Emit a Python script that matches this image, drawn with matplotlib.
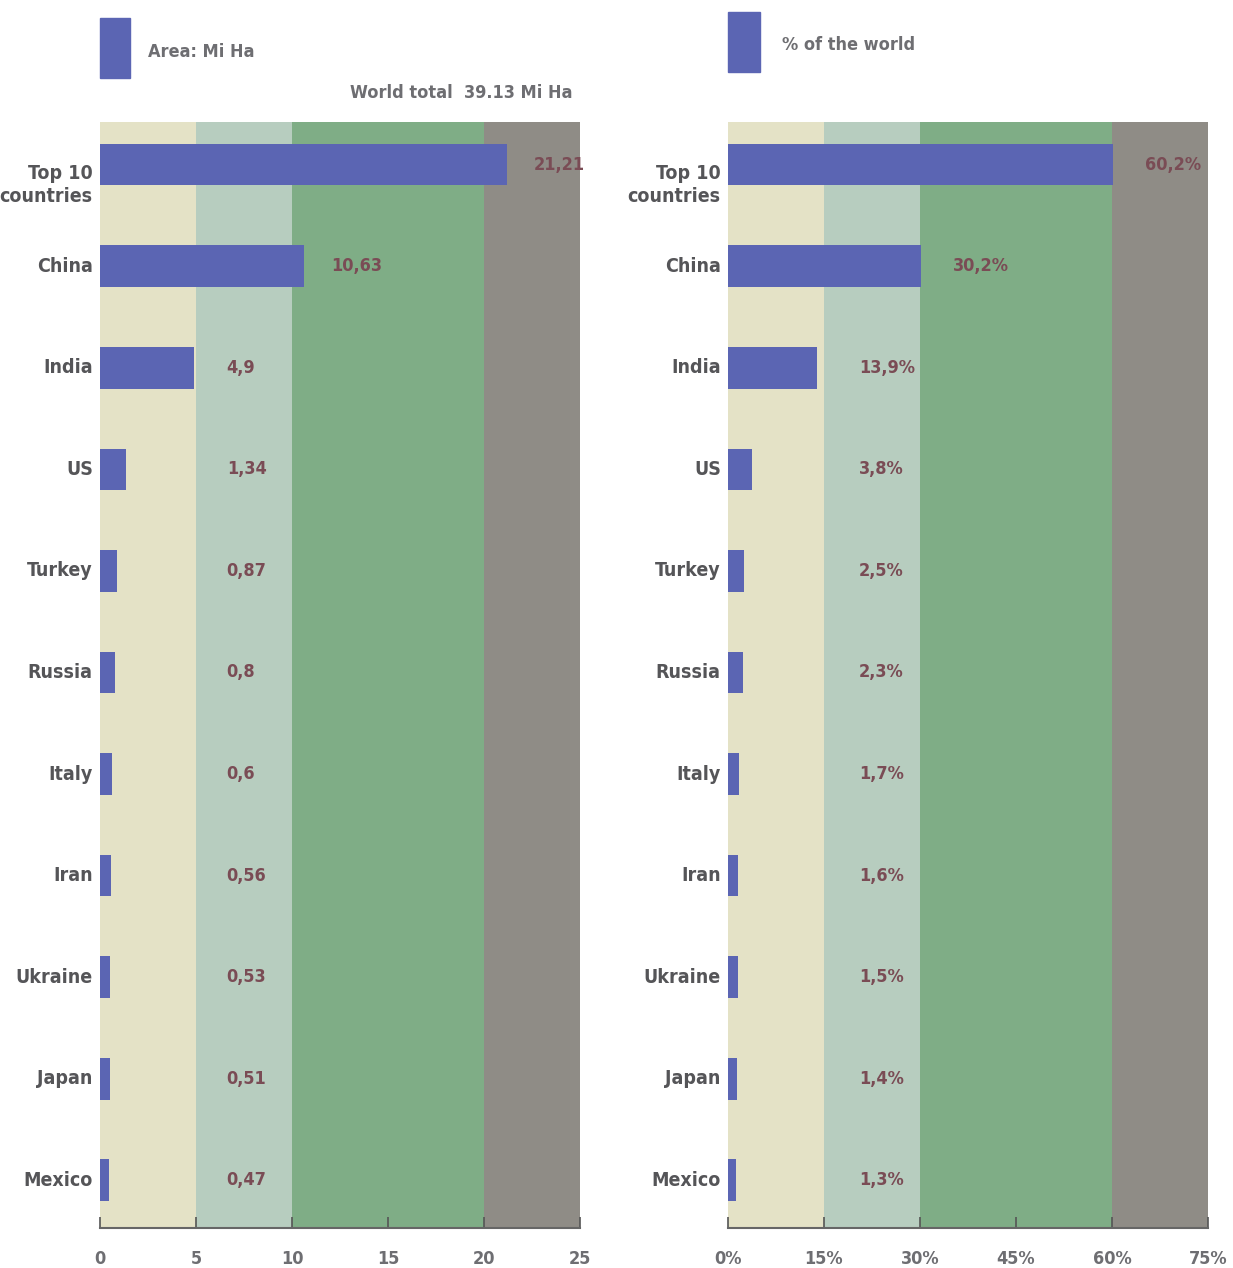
import matplotlib
matplotlib.use("Agg")
import matplotlib.pyplot as plt
from matplotlib.patches import Rectangle

# data
countries = ["Top 10\ncountries", "China", "India", "US", "Turkey", "Russia",
             "Italy", "Iran", "Ukraine", "Japan", "Mexico"]
area = [21.21, 10.63, 4.9, 1.34, 0.87, 0.8, 0.6, 0.56, 0.53, 0.51, 0.47]
area_labels = ["21,21", "10,63", "4,9", "1,34", "0,87", "0,8", "0,6", "0,56", "0,53", "0,51", "0,47"]
share = [60.2, 30.2, 13.9, 3.8, 2.5, 2.3, 1.7, 1.6, 1.5, 1.4, 1.3]
share_labels = ["60,2%", "30,2%", "13,9%", "3,8%", "2,5%", "2,3%", "1,7%", "1,6%", "1,5%", "1,4%", "1,3%"]
area_ticks = [0, 5, 10, 15, 20, 25]
share_ticks = [0, 15, 30, 45, 60, 75]
share_ticklabels = ["0%", "15%", "30%", "45%", "60%", "75%"]

FONT = ["DejaVu Sans"]
STRETCH = "condensed"
BAR = "#5b65b3"
TXT = "#6e6e72"
VAL = "#7a4c55"
band_colors = ["#e4e2c6", "#b7cdbf", "#7fad86", "#8f8c86"]

fig = plt.figure(figsize=(12.33, 12.68), dpi=100)
W, H = 1233, 1268


def panel(left, bands, vals, labels, ticks, ticklabels, thresh, off):
    ax = fig.add_axes([left / W, 40 / H, 480 / W, 1106 / H])
    for (a, b), c in zip(bands, band_colors):
        ax.axvspan(a, b, color=c, lw=0, zorder=0)
    y = list(range(len(vals)))
    ax.barh(y, vals, height=0.41, color=BAR, zorder=2)
    for i, (v, lab) in enumerate(zip(vals, labels)):
        ax.text(max(v, thresh) + off, i, lab, ha="left", va="center",
                fontsize=13, fontweight="bold", color=VAL, family=FONT,
                fontstretch=STRETCH, zorder=3)
    for i, name in enumerate(countries):
        yy = i + 0.2 if i == 0 else i
        ax.text(-0.015, yy, name, transform=ax.get_yaxis_transform(),
                ha="right", va="center", fontsize=14, fontweight="bold",
                color="#555558", family=FONT, fontstretch=STRETCH,
                linespacing=1.25)
    ax.set_xlim(ticks[0], ticks[-1])
    ax.set_ylim(10.47, -0.42)
    ax.set_yticks([])
    ax.set_xticks(ticks)
    ax.set_xticklabels(ticklabels, fontsize=13, fontweight="bold", color=TXT,
                       family=FONT, fontstretch=STRETCH)
    ax.tick_params(axis="x", direction="in", length=8, width=1.2, color="#555", pad=16)
    for s in ["top", "right", "left"]:
        ax.spines[s].set_visible(False)
    ax.spines["bottom"].set_color("#666")
    ax.spines["bottom"].set_linewidth(1.5)
    return ax


panel(100, [(0, 5), (5, 10), (10, 20), (20, 25)], area, area_labels,
      area_ticks, [str(t) for t in area_ticks], 5.2, 1.4)
panel(728, [(0, 15), (15, 30), (30, 60), (60, 75)], share, share_labels,
      share_ticks, share_ticklabels, 15.5, 5.0)

# legend swatches and headings
fig.patches.append(Rectangle((100 / W, 1 - 78 / H), 30 / W, 60 / H,
                             transform=fig.transFigure, color=BAR))
fig.patches.append(Rectangle((728 / W, 1 - 72 / H), 32 / W, 60 / H,
                             transform=fig.transFigure, color=BAR))
fig.text(148 / W, 1 - 52 / H, "Area: Mi Ha", ha="left", va="center",
         fontsize=13, fontweight="bold", color=TXT, family=FONT, fontstretch=STRETCH)
fig.text(782 / W, 1 - 45 / H, "% of the world", ha="left", va="center",
         fontsize=13, fontweight="bold", color=TXT, family=FONT, fontstretch=STRETCH)
fig.text(573 / W, 1 - 93 / H, "World total  39.13 Mi Ha", ha="right", va="center",
         fontsize=13, fontweight="bold", color=TXT, family=FONT, fontstretch=STRETCH)

fig.savefig("out.png", dpi=100, facecolor="white")
